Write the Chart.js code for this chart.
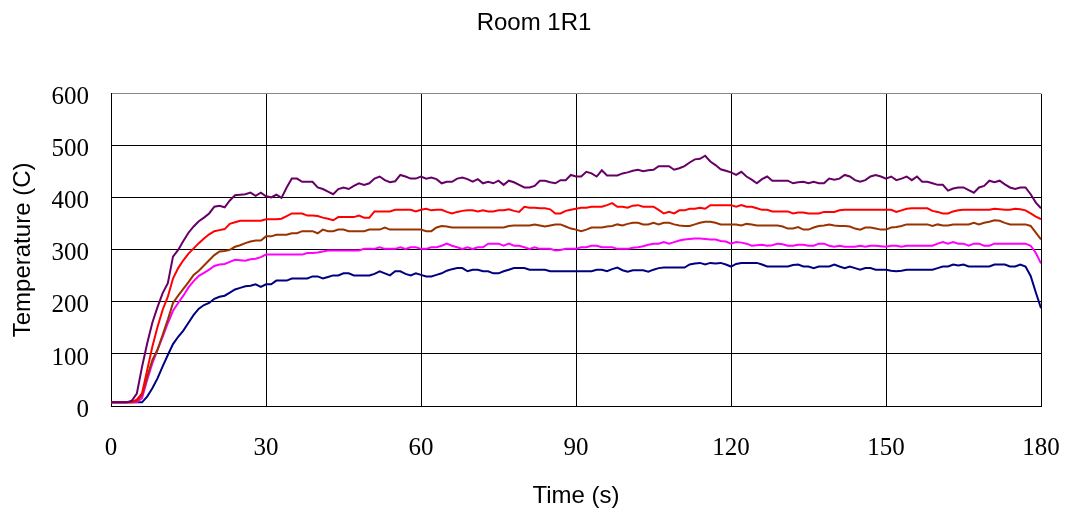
<!DOCTYPE html>
<html>
<head>
<meta charset="utf-8">
<script src="https://cdn.jsdelivr.net/npm/chart.js@4/dist/chart.umd.min.js"></script>
<style>
    body { margin: 0; background: #fff; }
    #wrap { width: 1068px; height: 512px; }
</style>
</head>
<body>
<div id="wrap"><canvas id="roomChart" width="1068" height="512"></canvas></div>
<script>
// sample times, one reading per second
const seconds = Array.from({ length: 181 }, (_, i) => i);
const xTicks = [0, 30, 60, 90, 120, 150, 180];
const yTicks = [0, 100, 200, 300, 400, 500, 600];

const tcPurple = [
    7, 7, 7, 7, 10, 24, 75, 120, 160, 190,
    217, 236, 287, 300, 317, 333, 345, 355, 362, 370,
    383, 385, 382, 395, 405, 406, 407, 410, 404, 410,
    403, 401, 406, 400, 420, 437, 437, 431, 431, 431,
    420, 417, 412, 407, 417, 420, 417, 423, 428, 425,
    428, 437, 441, 434, 430, 432, 444, 441, 437, 437,
    441, 437, 439, 436, 428, 431, 431, 437, 439, 436,
    431, 436, 428, 431, 428, 433, 425, 433, 430, 425,
    420, 420, 423, 433, 433, 430, 428, 434, 434, 444,
    441, 441, 450, 447, 441, 453, 443, 443, 443, 447,
    449, 452, 454, 451, 453, 454, 461, 461, 461, 454,
    457, 461, 468, 474, 475, 481, 470, 463, 455, 452,
    449, 444, 450, 441, 435, 428, 436, 441, 433, 433,
    433, 433, 428, 430, 431, 428, 431, 428, 428, 437,
    435, 437, 444, 441, 434, 431, 434, 441, 444, 441,
    437, 441, 434, 437, 441, 434, 441, 431, 431, 428,
    425, 425, 414, 418, 420, 420, 415, 410, 420, 423,
    433, 430, 433, 426, 420, 417, 420, 420, 407, 391,
    380
];
const tcRed = [
    7, 7, 7, 7, 8, 12, 24, 69, 114, 152,
    185, 210, 245, 265, 280, 293, 303, 313, 322, 330,
    336, 338, 340, 350, 353, 356, 356, 356, 356, 356,
    359, 359, 359, 360, 365, 370, 370, 370, 366, 366,
    365, 362, 360, 357, 363, 363, 363, 363, 366, 362,
    362, 374, 374, 374, 374, 377, 377, 377, 377, 374,
    377, 379, 376, 377, 377, 373, 370, 373, 375, 376,
    376, 374, 376, 374, 374, 376, 376, 378, 375, 373,
    383, 381, 381, 380, 380, 378, 370, 370, 375, 377,
    379, 381, 381, 383, 383, 383, 386, 390, 383, 383,
    381, 385, 386, 383, 383, 383, 377, 370, 373, 370,
    376, 376, 379, 379, 381, 379, 386, 386, 386, 386,
    386, 383, 386, 383, 383, 380, 377, 377, 374, 374,
    374, 374, 370, 372, 372, 370, 370, 370, 373, 373,
    373, 376, 377, 377, 377, 377, 377, 377, 377, 377,
    377, 377, 373, 376, 379, 380, 380, 380, 380, 375,
    373, 370, 370, 374, 376, 377, 377, 377, 377, 377,
    377, 379, 378, 377, 377, 379, 378, 376, 370, 364,
    359
];
const tcBrown = [
    7, 7, 7, 7, 7, 10, 21, 56, 88, 108,
    137, 166, 198, 212, 225, 238, 252, 260, 270, 280,
    290, 297, 298, 300, 306, 309, 313, 316, 318, 318,
    326, 326, 329, 329, 329, 332, 332, 336, 336, 336,
    332, 339, 336, 336, 339, 339, 336, 336, 336, 336,
    339, 339, 339, 343, 339, 339, 339, 339, 339, 339,
    339, 336, 336, 343, 346, 345, 343, 343, 343, 343,
    343, 343, 343, 343, 343, 343, 343, 346, 347, 347,
    347, 347, 349, 347, 345, 347, 349, 349, 345, 341,
    339, 336, 339, 343, 343, 343, 345, 346, 349, 347,
    350, 352, 352, 349, 349, 352, 349, 352, 352, 349,
    347, 346, 346, 349, 352, 354, 354, 352, 349, 349,
    349, 349, 347, 350, 349, 347, 347, 347, 347, 347,
    345, 341, 341, 344, 339, 339, 343, 346, 347, 349,
    347, 346, 346, 345, 341, 339, 343, 343, 341, 339,
    339, 343, 344, 346, 349, 349, 349, 349, 349, 346,
    349, 347, 347, 349, 349, 349, 349, 352, 349, 352,
    354, 357, 356, 352, 349, 349, 349, 349, 346, 333,
    320
];
const tcMagenta = [
    7, 7, 7, 7, 7, 7, 15, 50, 82, 108,
    133, 159, 183, 198, 212, 228, 240, 250, 256, 262,
    269, 272, 273, 277, 281, 280, 279, 282, 283, 286,
    291, 291, 291, 291, 291, 291, 291, 291, 294, 294,
    295, 297, 299, 299, 299, 299, 299, 299, 299, 302,
    302, 302, 305, 302, 302, 302, 305, 302, 305, 305,
    302, 302, 305, 305, 308, 312, 308, 305, 302, 305,
    302, 305, 305, 312, 312, 312, 308, 312, 308, 308,
    305, 302, 305, 302, 302, 302, 299, 300, 302, 302,
    302, 305, 305, 308, 308, 305, 305, 305, 302, 302,
    302, 304, 305, 307, 310, 312, 312, 315, 312, 315,
    318, 320, 321, 322, 322, 321, 320, 320, 317, 316,
    312, 315, 314, 312, 308, 309, 310, 308, 309, 312,
    311, 308, 308, 310, 310, 308, 308, 312, 312, 308,
    306, 308, 306, 306, 306, 308, 306, 308, 308, 307,
    306, 308, 308, 306, 308, 308, 308, 308, 308, 308,
    312, 315, 312, 315, 312, 312, 308, 312, 312, 308,
    308, 312, 312, 312, 312, 312, 312, 312, 308, 294,
    274
];
const tcNavy = [
    7, 7, 7, 7, 7, 7, 7, 18, 34, 53,
    76, 98, 119, 133, 145, 160, 175, 187, 194, 198,
    206, 210, 212, 218, 224, 227, 230, 231, 234, 229,
    234, 234, 241, 241, 241, 245, 245, 245, 245, 249,
    249, 245, 248, 251, 251, 255, 255, 251, 251, 251,
    251, 254, 259, 255, 251, 259, 259, 254, 251, 255,
    252, 249, 249, 252, 255, 260, 263, 265, 265, 259,
    262, 262, 259, 259, 255, 255, 259, 262, 265, 265,
    265, 262, 262, 262, 262, 259, 259, 259, 259, 259,
    259, 259, 259, 259, 262, 262, 259, 263, 266, 261,
    258, 261, 261, 261, 258, 262, 265, 266, 266, 266,
    266, 266, 272, 274, 275, 272, 275, 274, 275, 272,
    268, 273, 275, 275, 275, 275, 272, 268, 268, 268,
    268, 268, 271, 272, 268, 268, 265, 268, 268, 268,
    272, 268, 265, 268, 265, 262, 265, 265, 262, 262,
    262, 260, 259, 260, 262, 262, 262, 262, 262, 262,
    265, 268, 268, 272, 270, 272, 268, 268, 268, 268,
    268, 272, 272, 272, 268, 268, 272, 268, 250, 218,
    188
];

const series = [
    { name: 'TC1', values: tcPurple, color: '#660066' },
    { name: 'TC2', values: tcRed, color: '#ff0000' },
    { name: 'TC3', values: tcBrown, color: '#993300' },
    { name: 'TC4', values: tcMagenta, color: '#ff00ff' },
    { name: 'TC5', values: tcNavy, color: '#000080' }
];

const datasets = series.map(s => ({
    label: s.name,
    data: s.values.map((v, i) => ({ x: seconds[i], y: v })),
    borderColor: s.color,
    backgroundColor: s.color,
    borderWidth: 2,
    pointRadius: 0,
    tension: 0,
    fill: false
}));

const sans = "'Liberation Sans', Arial, sans-serif";
const serif = "'Liberation Serif', 'Times New Roman', serif";

const ctx = document.getElementById('roomChart').getContext('2d');
const roomChart = new Chart(ctx, {
    type: 'line',
    data: { datasets: datasets },
    options: {
        responsive: false,
        animation: false,
        layout: { padding: 0 },
        plugins: {
            legend: { display: false },
            tooltip: { enabled: false },
            title: {
                display: true,
                text: 'Room 1R1',
                color: '#000',
                font: { family: sans, size: 24, weight: 'normal', lineHeight: 1.2 },
                padding: { top: 9, bottom: 56 }
            }
        },
        scales: {
            x: {
                type: 'linear',
                min: 0,
                max: 180,
                afterFit: (scale) => {
                    scale.height = 106;
                    scale.paddingLeft = 0;
                    scale.paddingRight = 27;
                },
                afterBuildTicks: (scale) => { scale.ticks = xTicks.map(v => ({ value: v })); },
                ticks: {
                    color: '#000',
                    font: { family: serif, size: 25 },
                    padding: 27,
                    maxRotation: 0
                },
                grid: { color: '#000', lineWidth: 1, drawTicks: false },
                border: { color: '#000', width: 1 },
                title: {
                    display: true,
                    text: 'Time (s)',
                    color: '#000',
                    font: { family: sans, size: 24 },
                    padding: { top: 0, bottom: 1 }
                }
            },
            y: {
                min: 0,
                max: 600,
                afterFit: (scale) => { scale.width = 111; },
                afterBuildTicks: (scale) => { scale.ticks = yTicks.map(v => ({ value: v })); },
                ticks: {
                    color: '#000',
                    font: { family: serif, size: 25 },
                    padding: 22,
                    labelOffset: 4
                },
                grid: {
                    color: (c) => (c.tick && c.tick.value === 600 ? '#888' : '#000'),
                    lineWidth: 1,
                    drawTicks: false
                },
                border: { color: '#000', width: 1 },
                title: {
                    display: true,
                    text: 'Temperature (C)',
                    color: '#000',
                    font: { family: sans, size: 24 },
                    padding: { top: 9, bottom: 0 }
                }
            }
        }
    }
});
</script>
</body>
</html>
